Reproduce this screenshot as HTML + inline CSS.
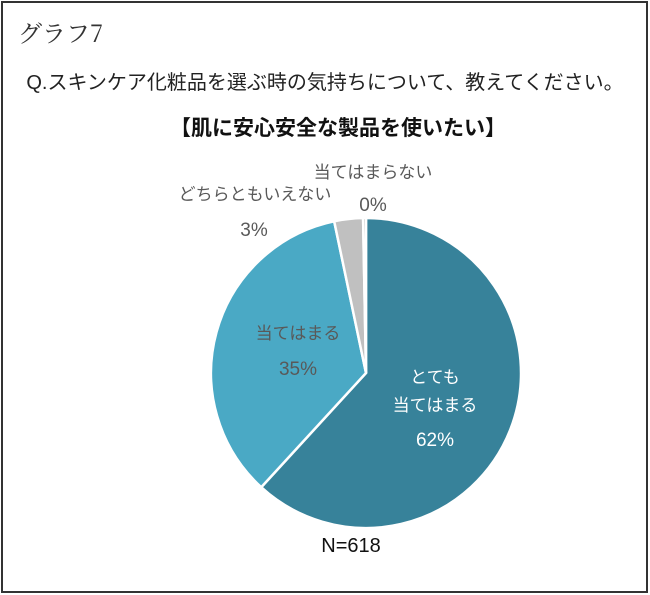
<!DOCTYPE html>
<html><head><meta charset="utf-8"><style>
body{margin:0;background:#fff;}
#wrap{position:relative;width:650px;height:595px;overflow:hidden;font-family:"Liberation Sans","Noto Sans CJK JP",sans-serif;}
</style></head><body>
<div id="wrap">
<svg width="650" height="595" font-family="Liberation Sans, Noto Sans CJK JP, sans-serif">
<rect x="2" y="2" width="645" height="590" fill="#fff" stroke="#333" stroke-width="2"/>
<text x="18" y="42" font-size="24" fill="#333" font-family="Noto Serif CJK SC, serif">グラフ7</text>
<text x="325" y="89" font-size="20" fill="#222" text-anchor="middle">Q.スキンケア化粧品を選ぶ時の気持ちについて、教えてください。</text>
<text x="338" y="135" font-size="21" font-weight="bold" fill="#111" text-anchor="middle">【肌に安心安全な製品を使いたい】</text>
<g id="slices"></g>
<g id="labels" font-size="17" fill="#595959">
<text x="435" y="383" text-anchor="middle" fill="#fff">とても</text>
<text x="435" y="411" text-anchor="middle" fill="#fff">当てはまる</text>
<text x="435" y="446" text-anchor="middle" fill="#fff" font-size="19">62%</text>
<text x="298" y="339" text-anchor="middle">当てはまる</text>
<text x="298" y="375" text-anchor="middle" font-size="19">35%</text>
<text x="255" y="200" text-anchor="middle">どちらともいえない</text>
<text x="254" y="236" text-anchor="middle" font-size="19">3%</text>
<text x="373" y="178" text-anchor="middle">当てはまらない</text>
<text x="373" y="211" text-anchor="middle" font-size="19">0%</text>
</g>
<text x="351" y="552" font-size="20" fill="#111" text-anchor="middle">N=618</text>
</svg>
</div>
<script>
const categories=["とても当てはまる","当てはまる","どちらともいえない","当てはまらない"];
const values=[62,35,3,0.3];
const colors=["#37829a","#4aa9c5","#c0c0c0","#a6a6a6"];
const names=["slice-strongly-agree","slice-agree","slice-neutral","slice-disagree"];
const cx=366,cy=373,r=155;
const g=document.getElementById('slices');
const total=values.reduce((a,b)=>a+b,0);
let a0=0;
values.forEach((v,i)=>{
  const a1=a0+v/total*Math.PI*2;
  const x0=cx+r*Math.sin(a0),y0=cy-r*Math.cos(a0),x1=cx+r*Math.sin(a1),y1=cy-r*Math.cos(a1);
  const p=document.createElementNS('http://www.w3.org/2000/svg','path');
  p.setAttribute('d',`M${cx},${cy}L${x0},${y0}A${r},${r} 0 ${a1-a0>Math.PI?1:0} 1 ${x1},${y1}Z`);
  p.setAttribute('fill',colors[i]);p.setAttribute('stroke','#fff');p.setAttribute('stroke-width','2.5');
  
  
  g.appendChild(p);a0=a1;
});
</script>
</body></html>
